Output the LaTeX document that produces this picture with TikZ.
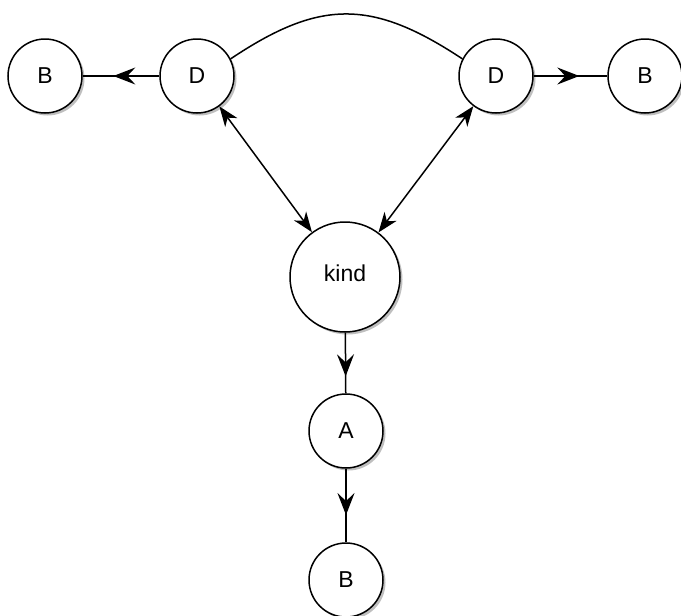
\documentclass[tikz,border=0pt]{standalone}
\usepackage{fontspec}
\setmainfont{Liberation Sans}
\usetikzlibrary{arrows.meta,shadows,decorations.markings}
\begin{document}
\begin{tikzpicture}[x=1pt,y=-1pt,
  vtx/.style={circle,draw=black,line width=1.5pt,fill=white,inner sep=0pt,minimum size=74pt,
    font=\fontsize{23}{27}\selectfont,
    drop shadow={shadow xshift=2.5pt,shadow yshift=-2.5pt,opacity=0.25,fill=black}},
  big/.style={vtx,minimum size=110pt},
  edge/.style={draw=black,line width=1.5pt},
  midarrow/.style={edge,postaction={decorate},decoration={markings,
    mark=at position #1 with {\arrow{Stealth[length=22pt,width=17pt,inset=8pt]}}}},
  both/.style={edge,{Stealth[length=20pt,width=15pt,inset=6pt]}-{Stealth[length=20pt,width=15pt,inset=6pt]}}
]
\useasboundingbox (0,0) rectangle (681,616);
\node[vtx] (bl) at (45,76) {B};
\node[vtx] (dl) at (197,76) {D};
\node[vtx] (dr) at (496,76) {D};
\node[vtx] (br) at (645,76) {B};
\node[big] (kind) at (345,277) {\raisebox{8pt}{kind}};
\node[vtx] (a) at (346,431) {A};
\node[vtx] (bb) at (346,580) {B};
\path[midarrow=0.6] (dl) -- (bl);
\path[midarrow=0.62] (dr) -- (br);
\path[midarrow=0.72] (kind) -- (a);
\path[midarrow=0.63] (a) -- (bb);
\path[both] (dl) -- (kind);
\path[both] (dr) -- (kind);
\path[edge] (dl.27) .. controls (320,-1) and (372,-1) .. (dr.153);
\end{tikzpicture}
\end{document}
